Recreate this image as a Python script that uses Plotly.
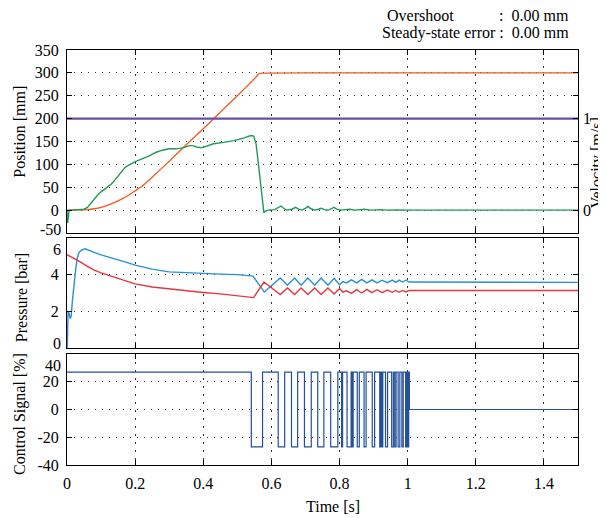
import plotly.graph_objects as go

# ---------------- data ----------------
# Position response [mm]
pos_t = [0, 0.03, 0.06, 0.08, 0.10, 0.12, 0.14, 0.16, 0.18, 0.20, 0.22, 0.25, 0.30, 0.35,
         0.40, 0.45, 0.50, 0.55, 0.565, 0.60, 0.80, 1.00, 1.20, 1.50]
pos_mm = [0, 0, 1, 3, 6, 11, 17, 24, 32, 42, 52, 72, 107, 143,
          178, 214, 250, 287, 299, 299.5, 300, 300, 300, 300]

# Velocity [m/s]
vel_t = [0, 0.002, 0.006, 0.01, 0.03, 0.05, 0.06, 0.075, 0.09, 0.10, 0.11, 0.12, 0.13, 0.14,
         0.15, 0.16, 0.17, 0.18, 0.19, 0.20, 0.22, 0.24, 0.26, 0.28, 0.30, 0.32, 0.34, 0.36,
         0.37, 0.38, 0.395, 0.41, 0.43, 0.46, 0.49, 0.52, 0.54, 0.548, 0.555, 0.562, 0.568,
         0.574, 0.578, 0.583, 0.59, 0.61, 0.62, 0.628, 0.636, 0.645, 0.66, 0.671, 0.68, 0.69,
         0.70, 0.707, 0.716, 0.728, 0.738, 0.746, 0.755, 0.768, 0.776, 0.783, 0.792, 0.805,
         0.83, 0.845, 0.873, 0.89, 0.92, 0.94, 0.97, 1.00, 1.50]
vel_ms = [0, -0.14, -0.01, 0, 0.005, 0.01, 0.03, 0.10, 0.165, 0.20, 0.23, 0.25, 0.285, 0.325,
          0.375, 0.425, 0.465, 0.49, 0.51, 0.53, 0.56, 0.59, 0.63, 0.655, 0.67, 0.67, 0.68, 0.705,
          0.705, 0.69, 0.68, 0.70, 0.725, 0.74, 0.76, 0.79, 0.815, 0.81, 0.725, 0.50, 0.30,
          0.075, -0.03, -0.01, 0, 0.005, 0.03, 0.045, 0.02, 0, 0.01, 0.03, 0.01, 0,
          0.02, 0.04, 0.015, 0, 0.01, 0.02, 0.005, 0, 0.015, 0.03, 0.01, 0,
          0.01, 0, 0.01, 0, 0.005, 0, 0.0025, 0, 0]

# Velocity reference [m/s]
vref_t = [0, 1.5]
vref_ms = [1.0, 1.0]

# Pressures [bar]
pa_t = [0, 0.001, 0.003, 0.006, 0.009, 0.012, 0.016, 0.02, 0.025, 0.03, 0.035, 0.04, 0.045,
        0.05, 0.055, 0.06, 0.07, 0.08, 0.10, 0.12, 0.15, 0.18, 0.20, 0.25, 0.30, 0.35, 0.40,
        0.45, 0.50, 0.54, 0.546, 0.579, 0.626, 0.647, 0.668, 0.687, 0.707, 0.727, 0.746,
        0.766, 0.784, 0.80, 0.81, 0.82, 0.835, 0.85, 0.865, 0.88, 0.895, 0.91, 0.925, 0.94,
        0.955, 0.965, 0.975, 0.985, 0.995, 1.005, 1.05, 1.50]
pa_bar = [0, 0.1, 2.0, 1.9, 1.6, 1.7, 2.6, 3.4, 4.2, 4.9, 5.2, 5.3, 5.36,
          5.4, 5.4, 5.37, 5.3, 5.22, 5.08, 4.98, 4.82, 4.64, 4.52, 4.3, 4.15, 4.1, 4.05,
          4.03, 4.0, 3.96, 3.92, 3.05, 3.82, 3.42, 3.82, 3.42, 3.82, 3.42, 3.82,
          3.42, 3.80, 3.45, 3.62, 3.55, 3.72, 3.55, 3.74, 3.55, 3.72, 3.55, 3.70, 3.56,
          3.70, 3.58, 3.70, 3.60, 3.70, 3.60, 3.60, 3.58]

pb_t = [0, 0.02, 0.04, 0.06, 0.08, 0.10, 0.12, 0.15, 0.20, 0.25, 0.30, 0.35, 0.40, 0.45,
        0.50, 0.548, 0.578, 0.626, 0.647, 0.668, 0.687, 0.707, 0.727, 0.746, 0.766, 0.784,
        0.80, 0.81, 0.82, 0.835, 0.85, 0.865, 0.88, 0.895, 0.91, 0.925, 0.94, 0.955, 0.965,
        0.975, 0.985, 0.995, 1.005, 1.05, 1.50]
pb_bar = [5.09, 4.9, 4.68, 4.45, 4.25, 4.1, 3.98, 3.78, 3.5, 3.33, 3.22, 3.12, 3.03, 2.95,
          2.86, 2.75, 3.6, 2.92, 3.27, 2.92, 3.27, 2.92, 3.27, 2.92, 3.27, 2.95,
          3.25, 3.05, 3.12, 2.98, 3.18, 3.0, 3.2, 3.02, 3.18, 3.02, 3.16, 3.04, 3.14,
          3.04, 3.14, 3.06, 3.14, 3.14, 3.14]

# Control signal [%] (step changes)
u_t = [0, 0.541, 0.574, 0.620, 0.639, 0.659, 0.677, 0.697, 0.717, 0.736, 0.754, 0.774,
       0.795, 0.806, 0.809, 0.822, 0.834, 0.837, 0.840, 0.852, 0.858, 0.872, 0.878, 0.896,
       0.903, 0.918, 0.921, 0.924, 0.927, 0.935, 0.941, 0.953, 0.958, 0.962, 0.966, 0.972,
       0.977, 0.983, 0.987, 0.994, 0.997, 1.000, 1.003, 1.005, 1.50]
u_pct = [27, -27, 27, -27, 27, -27, 27, -27, 27, -27, 27, -27,
         27, -27, 27, -27, 27, -27, 27, -27, 27, -27, 27, -27,
         27, -27, 27, -27, 27, -27, 27, -27, 27, -27, 27, -27,
         27, -27, 27, -27, 27, -27, 27, 0, 0]

x_ticks = [0, 0.2, 0.4, 0.6, 0.8, 1.0, 1.2, 1.4]
x_ticklabels = ["0", "0.2", "0.4", "0.6", "0.8", "1", "1.2", "1.4"]
pos_ticks = [-50, 0, 50, 100, 150, 200, 250, 300, 350]
pres_ticks = [0, 2, 4, 6]
ctrl_ticks = [-40, -20, 0, 20, 40]
vel_ticks = [0, 1]

# ---------------- styling ----------------
FONT = "Liberation Serif, Times New Roman, Times, serif"
C_POS = "#f05a23"
C_VEL = "#1f9a55"
C_REF = "#6a4ea0"
C_PA = "#2a8fd4"
C_PB = "#e5383b"
C_U = "#23509c"

fig = go.Figure()
fig.add_trace(go.Scatter(x=vref_t, y=vref_ms, mode="lines", line=dict(color=C_REF, width=2.2),
                         xaxis="x", yaxis="y4", showlegend=False))
fig.add_trace(go.Scatter(x=pos_t, y=pos_mm, mode="lines", line=dict(color=C_POS, width=1.3, shape="spline", smoothing=0.4),
                         xaxis="x", yaxis="y", showlegend=False))
fig.add_trace(go.Scatter(x=vel_t, y=vel_ms, mode="lines", line=dict(color=C_VEL, width=1.4),
                         xaxis="x", yaxis="y4", showlegend=False))
fig.add_trace(go.Scatter(x=pa_t, y=pa_bar, mode="lines", line=dict(color=C_PA, width=1.4),
                         xaxis="x2", yaxis="y2", showlegend=False))
fig.add_trace(go.Scatter(x=pb_t, y=pb_bar, mode="lines", line=dict(color=C_PB, width=1.4),
                         xaxis="x2", yaxis="y2", showlegend=False))
fig.add_trace(go.Scatter(x=u_t, y=u_pct, mode="lines", line=dict(color=C_U, width=1.2, shape="hv"),
                         xaxis="x3", yaxis="y3", showlegend=False))

tickfont = dict(family=FONT, size=16, color="black")
common_x = dict(range=[0, 1.5], tickvals=x_ticks, ticktext=x_ticklabels, showline=True,
                linecolor="black", linewidth=1, mirror="ticks", ticks="inside", ticklen=5,
                tickcolor="black", showgrid=True, gridcolor="#333", gridwidth=1,
                griddash="2px,6px", zeroline=False, tickfont=tickfont)
common_y = dict(showline=True, linecolor="black", linewidth=1, mirror="ticks",
                ticks="inside", ticklen=5, tickcolor="black", showgrid=True,
                gridcolor="#333", gridwidth=1, griddash="1px,6px", zeroline=False,
                tickfont=tickfont, ticklabelstandoff=4)

d_top = [232 / 415, 1.0]
d_mid = [117 / 415, 227 / 415]
d_bot = [0.0, 111 / 415]

# page has an 8px body margin; plot area is placed at x 67..578, y 50..465 of the window
fig.update_layout(
    width=598, height=510,
    margin=dict(l=59, r=28, t=42, b=53),
    paper_bgcolor="white", plot_bgcolor="white",
    font=dict(family=FONT, size=16, color="black"),
    xaxis=dict(common_x, domain=[0, 1], anchor="y", showticklabels=False),
    xaxis2=dict(common_x, domain=[0, 1], anchor="y2", showticklabels=False),
    xaxis3=dict(common_x, domain=[0, 1], anchor="y3", showticklabels=True, ticklabelstandoff=4),
    yaxis=dict(common_y, domain=d_top, anchor="x", range=[-50, 350], tickvals=pos_ticks,
               ticktext=["" if v == -50 else str(v) for v in pos_ticks]),
    yaxis4=dict(overlaying="y", anchor="x", side="right", range=[-0.25, 1.75],
                tickvals=vel_ticks, ticktext=[str(v) for v in vel_ticks], showgrid=False,
                zeroline=False, showline=False, ticks="", tickfont=tickfont,
                ticklabelstandoff=4),
    yaxis2=dict(common_y, domain=d_mid, anchor="x2", range=[0, 6], tickvals=pres_ticks,
                ticktext=["" if v in (0, 6) else str(v) for v in pres_ticks]),
    yaxis3=dict(common_y, domain=d_bot, anchor="x3", range=[-40, 40], tickvals=ctrl_ticks,
                ticktext=["" if v == 40 else str(v) for v in ctrl_ticks]),
)

ann = []
def lab(text, yref, y, yshift):
    ann.append(dict(text=text, xref="paper", x=0, xanchor="right", xshift=-4, yref=yref, y=y,
                    yanchor="middle", yshift=yshift, showarrow=False, font=tickfont))
lab("-50", "y", -50, 4)
lab("6", "y2", 6, -11)
lab("0", "y2", 0, 5)
lab("40", "y3", 40, -11)

tfont = dict(family=FONT, size=16, color="black")
def ytitle(text, x, y):
    ann.append(dict(text=text, xref="paper", yref="paper", x=x, y=y, xanchor="center",
                    yanchor="middle", textangle=-90, showarrow=False, font=tfont))
ytitle("Position [mm]", -0.092, 0.803)
ytitle("Pressure [bar]", -0.090, 0.402)
ytitle("Control Signal [%]", -0.092, 0.123)
ytitle("Velocity [m/s]", 1.036, 0.728)
ann.append(dict(text="Time [s]", xref="paper", yref="paper", x=0.52, y=-0.101,
                xanchor="center", yanchor="middle", showarrow=False, font=tfont))

ann.append(dict(text="Overshoot", xref="paper", yref="paper", x=(385 - 67) / 511, y=(465 - 15) / 415,
                xanchor="left", yanchor="middle", showarrow=False, font=tfont))
ann.append(dict(text=":  0.00 mm", xref="paper", yref="paper", x=(571 - 67) / 511, y=(465 - 15) / 415,
                xanchor="right", yanchor="middle", showarrow=False, font=tfont))
ann.append(dict(text="Steady-state error :  0.00 mm", xref="paper", yref="paper", x=(571 - 67) / 511,
                y=(465 - 33) / 415, xanchor="right", yanchor="middle", showarrow=False, font=tfont))

fig.update_layout(annotations=ann)
fig.write_html("out.html")
